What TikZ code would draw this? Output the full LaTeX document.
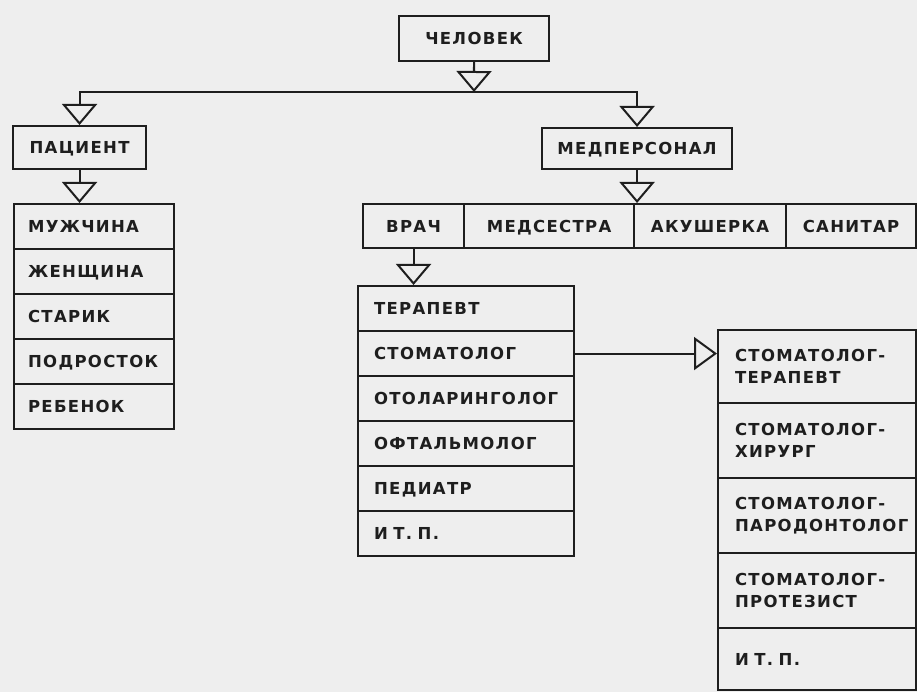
\documentclass[tikz,border=0pt]{standalone}
\usepackage{fontspec}
\setmainfont{DejaVu Sans}
\newfontfamily\diagfont{DejaVu Sans}[LetterSpace=8]
\usetikzlibrary{arrows.meta,positioning}
\definecolor{paper}{HTML}{EEEEEE}
\definecolor{ink}{HTML}{1E1E1E}
\tikzset{
  frame/.style={draw=ink, line width=2.1pt, text=ink, inner sep=0pt, anchor=north west,
    font=\diagfont\bfseries\fontsize{16.5}{22}\selectfont},
  titlebox/.style={frame, align=center, text height=12pt, text depth=0pt},
  rowbox/.style={frame, align=left, inner xsep=16pt},
  onerow/.style={rowbox, text height=12pt, text depth=0pt},
  link/.style={draw=ink, line width=2.1pt},
  opentri/.style={link, -{Triangle[open, width=35pt, length=21pt, line width=2pt]}},
  opentriwide/.style={link, -{Triangle[open, width=33pt, length=23pt, line width=2pt]}}
}
\begin{document}
\begin{tikzpicture}[x=1pt, y=-1pt]
  \fill[paper] (0,0) rectangle (917,692);
  \useasboundingbox (0,0) rectangle (917,692);
  % top of the hierarchy
  \node[titlebox, minimum width=150pt, minimum height=45pt] (chel) at (398,15) {ЧЕЛОВЕК};
  \node[titlebox, minimum width=133pt, minimum height=43pt] (pac) at (12,125) {ПАЦИЕНТ};
  \node[titlebox, minimum width=190pt, minimum height=41pt] (med) at (541,127) {МЕДПЕРСОНАЛ};
  % staff row
  \node[titlebox, minimum width=101pt, minimum height=44pt] (vrach) at (362,203) {ВРАЧ};
  \node[titlebox, minimum width=170pt, minimum height=44pt] (sestra) at (463,203) {МЕДСЕСТРА};
  \node[titlebox, minimum width=152pt, minimum height=44pt] (akush) at (633,203) {АКУШЕРКА};
  \node[titlebox, minimum width=130pt, minimum height=44pt] (sanit) at (785,203) {САНИТАР};
  % patients
  \foreach \t [count=\i] in {МУЖЧИНА,ЖЕНЩИНА,СТАРИК,ПОДРОСТОК,РЕБЕНОК}{
    \node[onerow, inner xsep=14pt, text width=132pt, minimum height=45pt] (pat\i) at (13,{203+45*(\i-1)}) {\t};
  }
  % doctors
  \foreach \t [count=\i] in {ТЕРАПЕВТ,СТОМАТОЛОГ,ОТОЛАРИНГОЛОГ,ОФТАЛЬМОЛОГ,ПЕДИАТР,И Т. П.}{
    \node[onerow, text width=184pt, minimum height=45pt] (doc\i) at (357,{285+45*(\i-1)}) {\t};
  }
  % dentists
  \foreach \t/\y/\h [count=\i] in {{СТОМАТОЛОГ-\\ТЕРАПЕВТ}/329/73,{СТОМАТОЛОГ-\\ХИРУРГ}/402/75,
      {СТОМАТОЛОГ-\\ПАРОДОНТОЛОГ}/477/75,{СТОМАТОЛОГ-\\ПРОТЕЗИСТ}/552/75}{
    \node[rowbox, inner xsep=17pt, text width=164pt, minimum height=\h pt] (stom\i) at (717,\y) {\t};
  }
  \node[onerow, inner xsep=17pt, text width=164pt, minimum height=62pt] (stom5) at (717,627) {И Т. П.};
  % connectors
  \coordinate (bus) at (474,92);
  \draw[opentri] (chel.south) -- (bus);
  \draw[opentri] (bus) -| (pac.north);
  \draw[opentri] (bus) -| (med.north);
  \draw[opentri] (pac.south) -- (pac.south |- pat1.north);
  \draw[opentri] (med.south) -- (med.south |- akush.north);
  \draw[opentri] (vrach.south) -- (vrach.south |- doc1.north);
  \draw[opentriwide] (doc2.east) -- (doc2.east -| stom1.west);
\end{tikzpicture}
\end{document}
